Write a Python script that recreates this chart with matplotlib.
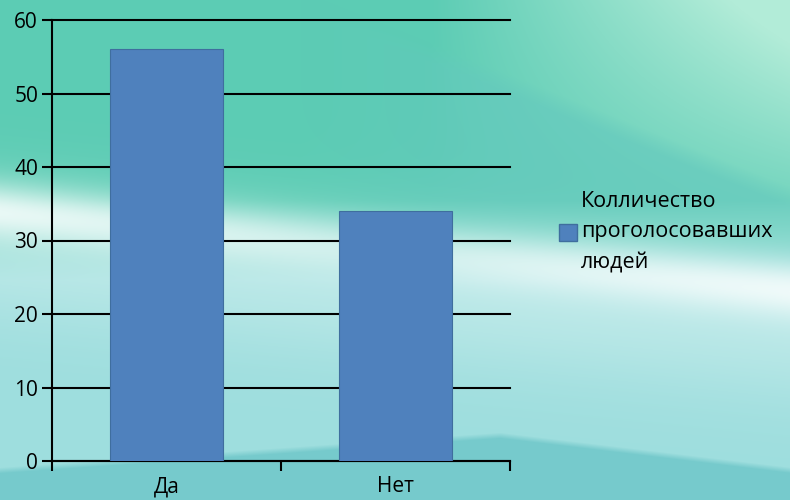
import matplotlib

matplotlib.use("Agg")

import matplotlib.pyplot as plt
import numpy as np
from matplotlib.patches import Patch

categories = ["Да", "Нет"]
votes = [56, 34]
y_ticks = [0, 10, 20, 30, 40, 50, 60]
legend_label = "Колличество\nпроголосовавших\nлюдей"

BAR_COLOR = "#4F81BD"

plt.rcParams["font.family"] = ["Open Sans", "DejaVu Sans"]


def rgb(r, g, b):
    return np.array([r, g, b]) / 255


def mix(img, col, w):
    w = np.clip(w, 0, 1)[..., None]
    return img * (1 - w) + col * w


def make_background(w=790, h=500):
    # decorative teal slide background with white swooshes
    yy, xx = np.mgrid[0:h, 0:w].astype(float)
    img = np.ones((h, w, 3)) * rgb(92, 204, 180)
    # lighter mint towards the top right
    img = mix(img, rgb(178, 236, 216), np.clip((xx - 430) / 360, 0, 1) * np.clip(1 - yy / 260, 0, 1) * 1.2)
    # darker teal wedge under the top right
    wedge_top = 70 + 0.4 * (xx - 500)
    img = mix(img, rgb(100, 200, 190), 0.6 * np.clip((yy - wedge_top) / 20, 0, 1) * np.clip((240 - yy) / 40, 0, 1) * np.clip((xx - 300) / 200, 0, 1))
    # light cyan lower area
    img = mix(img, rgb(158, 222, 222), np.clip((yy - 200) / 80, 0, 1))
    # white swoosh
    yc = 212 + 0.1 * xx
    img = mix(img, rgb(255, 255, 255), 0.85 * np.exp(-((yy - yc) / 28) ** 2) * (0.6 + 0.4 * np.abs(xx - 395) / 395))
    img = mix(img, rgb(235, 250, 248), 0.35 * np.exp(-((yy - yc - 40) / 70) ** 2))
    # darker band at the bottom
    edge = np.where(xx >= 500, 432 + 0.12 * (xx - 500), 432 + 0.07 * (500 - xx))
    img = mix(img, rgb(118, 202, 204), np.clip((yy - edge) / 6, 0, 1))
    return np.clip(img, 0, 1)


fig = plt.figure(figsize=(7.9, 5.0), dpi=100)
bg = fig.add_axes([0, 0, 1, 1], zorder=-10)
bg.imshow(make_background(), aspect="auto", extent=[0, 1, 0, 1])
bg.axis("off")

ax = fig.add_axes([52 / 790, 1 - 461 / 500, (510 - 52) / 790, (461 - 20) / 500])
ax.patch.set_alpha(0)

x = np.arange(len(categories))
ax.bar(x, votes, width=0.49, color=BAR_COLOR, edgecolor="#3F6E9E",
       linewidth=0.8, zorder=3)

ax.set_xlim(-0.5, len(categories) - 0.5)
ax.set_ylim(0, 60)
ax.set_yticks(y_ticks)
ax.yaxis.grid(True, color="black", linewidth=1.5, zorder=0)
ax.set_axisbelow(True)
for line in ax.get_ygridlines():
    line.set_clip_on(False)

ax.set_xticks(x)
ax.set_xticklabels(categories, fontsize=15)
ax.tick_params(axis="x", which="major", length=0, pad=11)
ax.set_xticks(np.arange(-0.5, len(categories)), minor=True)
ax.tick_params(axis="x", which="minor", length=7, width=1.5, direction="out")
ax.tick_params(axis="y", labelsize=15, length=7, width=1.5, pad=3)

for side in ["top", "right"]:
    ax.spines[side].set_visible(False)
ax.spines["left"].set_linewidth(1.5)
ax.spines["bottom"].set_linewidth(1.5)

handle = Patch(facecolor=BAR_COLOR, edgecolor="#3F6E9E")
fig.legend([handle], [legend_label], loc="center left",
           bbox_to_anchor=(540 / 790, 1 - 232 / 500), frameon=False,
           fontsize=15.5, handlelength=0.8, handleheight=0.8,
           handletextpad=0.2, labelspacing=0.3)
leg = fig.legends[0]
for txt in leg.get_texts():
    txt.set_linespacing(1.62)

fig.savefig("out.png", dpi=100)
